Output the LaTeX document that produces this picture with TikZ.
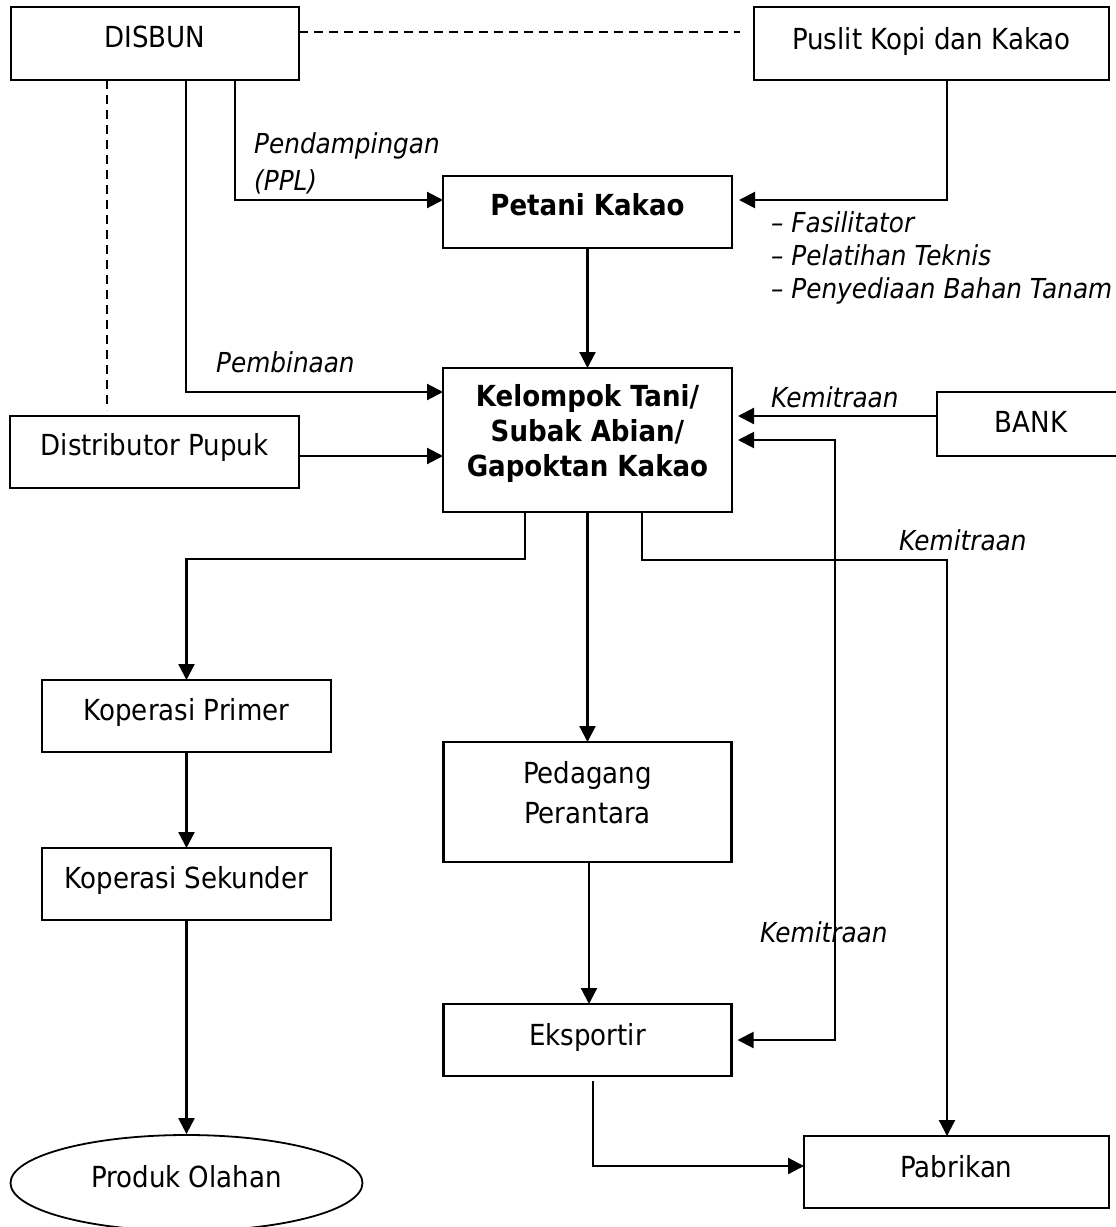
\documentclass[tikz,border=0pt]{standalone}
\usepackage{fontspec}
\setmainfont{DejaVu Sans Condensed}
\usetikzlibrary{arrows.meta,shapes.geometric}
\newcommand{\fsz}{\fontsize{29}{35}\selectfont}
\newcommand{\ifsz}{\fontsize{27.5}{33}\selectfont}
\tikzset{
  box/.style={draw, rectangle, line width=2.2pt, inner sep=0pt, outer sep=0pt},
  lbl/.style={font=\fsz, inner sep=0pt, text height=21pt, text depth=0pt},
  ilbl/.style={font=\ifsz\itshape, inner sep=0pt, text height=20pt, text depth=0pt, anchor=west},
  tip/.tip={Triangle[length=16pt,width=16pt]},
  arr/.style={line width=2.2pt, -tip},
  dsh/.style={line width=1.8pt, dash pattern=on 9pt off 6pt}
}
\begin{document}
\begin{tikzpicture}[x=1pt,y=-1pt]
\useasboundingbox (0,0) rectangle (1116,1227);
% boxes
\node[box, minimum width=288pt, minimum height=73pt, label={[lbl,yshift=6.5pt]center:DISBUN}] (disbun) at (155,43.5) {};
\node[box, minimum width=355pt, minimum height=73pt, label={[lbl,yshift=4.5pt]center:Puslit Kopi dan Kakao}] (puslit) at (931.5,43.5) {};
\node[box, minimum width=289pt, minimum height=72pt, label={[lbl,font=\fsz\bfseries,yshift=7pt]center:Petani Kakao}] (petani) at (587.5,212) {};
\node[box, minimum width=289pt, minimum height=144pt, label={[font=\fsz\bfseries,align=center,inner sep=0pt,yshift=7pt]center:{Kelompok Tani/\\Subak Abian/\\Gapoktan Kakao}}] (kelompok) at (587.5,440) {};
\node[box, minimum width=289pt, minimum height=72pt, label={[lbl,yshift=7pt]center:Distributor Pupuk}] (distributor) at (154.5,452) {};
\node[box, minimum width=188pt, minimum height=64pt, label={[lbl,yshift=2pt]center:BANK}] (bank) at (1031,424) {};
\node[box, minimum width=289pt, minimum height=72pt, label={[lbl,yshift=6pt]center:Koperasi Primer}] (kprimer) at (186.5,716) {};
\node[box, minimum width=289pt, minimum height=72pt, label={[lbl,yshift=6pt]center:Koperasi Sekunder}] (ksekunder) at (186.5,884) {};
\node[box, minimum width=288pt, minimum height=120pt, label={[font=\fontsize{29}{40}\selectfont,align=center,inner sep=0pt,yshift=9pt]center:{Pedagang\\Perantara}}] (pedagang) at (587.5,802) {};
\node[box, minimum width=288pt, minimum height=72pt, label={[lbl,yshift=5pt]center:Eksportir}] (eksportir) at (587.5,1040) {};
\node[box, minimum width=305pt, minimum height=72pt, label={[lbl,yshift=5pt]center:Pabrikan}] (pabrikan) at (956.5,1172) {};
\node[draw, ellipse, line width=1.8pt, inner sep=0pt, minimum width=352pt, minimum height=96pt, label={[lbl,yshift=6pt]center:Produk Olahan}] (produk) at (186.5,1183) {};
% dashed links
\draw[dsh, shorten >=14pt] ([yshift=11.5pt]disbun.east) -- ([yshift=11.5pt]puslit.west);
\draw[dsh, shorten >=6pt] ([xshift=-48pt]disbun.south) -- ([xshift=-47.5pt]distributor.north);
% arrows
\draw[arr] ([xshift=80pt]disbun.south) |- ([yshift=12pt]petani.west);
\draw[arr] ([xshift=31pt]disbun.south) |- ([yshift=48pt]kelompok.west);
\draw[arr, shorten >=7pt] ([xshift=15.5pt]puslit.south) |- ([yshift=12pt]petani.east);
\draw[arr] (petani.south) -- (kelompok.north);
\draw[arr] ([yshift=-4pt]distributor.east) -- ([yshift=-16pt]kelompok.west);
\draw[arr, shorten >=6pt] ([yshift=8pt]bank.west) -- ([yshift=24pt]kelompok.east);
\coordinate (kx) at (835,0);
\draw[line width=2pt, tip-tip, shorten <=6pt, shorten >=6pt]
  (kelompok.east) -- (kelompok.east -| kx) -- (eksportir.east -| kx) -- (eksportir.east);
\draw[arr] ([xshift=-62.5pt]kelompok.south) -- ++(0,47) -| (kprimer.north);
\draw[arr] ([xshift=54.5pt]kelompok.south) -- ++(0,48) -| ([xshift=-9.5pt]pabrikan.north);
\draw[arr] (kelompok.south) -- (pedagang.north);
\draw[arr] ([xshift=1.5pt]pedagang.south) -- ([xshift=1.5pt]eksportir.north);
\draw[arr] (kprimer.south) -- (ksekunder.north);
\draw[arr] (ksekunder.south) -- (produk.north);
\draw[arr] ([xshift=5.5pt,yshift=-5pt]eksportir.south) |- ([yshift=6pt]pabrikan.west);
% labels
\node[ilbl] (l1) at (254,143) {Pendampingan};
\node[ilbl] (l2) at (254,180) {(PPL)};
\node[ilbl] (l3) at (216,362) {Pembinaan};
\node[ilbl] (b1) at (771,222) {– Fasilitator};
\node[ilbl] (b2) at (771,255) {– Pelatihan Teknis};
\node[ilbl] (b3) at (771,288) {– Penyediaan Bahan Tanam};
\node[ilbl] (k1) at (771,397) {Kemitraan};
\node[ilbl] (k2) at (899,540) {Kemitraan};
\node[ilbl] (k3) at (760,932) {Kemitraan};
\end{tikzpicture}
\end{document}
